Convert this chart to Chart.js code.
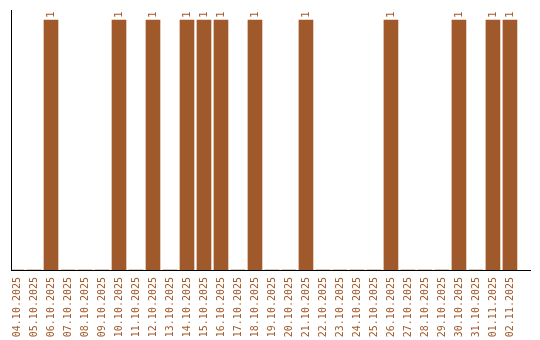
<!DOCTYPE html>
<html>
<head>
<meta charset="utf-8">
<script src="https://cdn.jsdelivr.net/npm/chart.js@4/dist/chart.umd.min.js"></script>
<style>
  html, body { margin: 0; padding: 0; background: #fff; }
  #wrap { width: 540px; height: 340px; }
</style>
</head>
<body>
<div id="wrap"><canvas id="c"></canvas></div>
<script>
const DATES = [
  "04.10.2025", "05.10.2025", "06.10.2025", "07.10.2025", "08.10.2025", "09.10.2025",
  "10.10.2025", "11.10.2025", "12.10.2025", "13.10.2025", "14.10.2025", "15.10.2025",
  "16.10.2025", "17.10.2025", "18.10.2025", "19.10.2025", "20.10.2025", "21.10.2025",
  "22.10.2025", "23.10.2025", "24.10.2025", "25.10.2025", "26.10.2025", "27.10.2025",
  "28.10.2025", "29.10.2025", "30.10.2025", "31.10.2025", "01.11.2025", "02.11.2025"
];
const COUNTS = [0, 0, 1, 0, 0, 0, 1, 0, 1, 0, 1, 1, 1, 0, 1, 0, 0, 1, 0, 0, 0, 0, 1, 0, 0, 0, 1, 0, 1, 1];

const BROWN = "#a0592a";
const MONO = "'DejaVu Sans Mono', 'Liberation Mono', monospace";

// "1" arriba de cada barra, girado como las fechas
const topLabels = {
  id: "topLabels",
  afterDatasetsDraw(chart) {
    const ctx = chart.ctx;
    const meta = chart.getDatasetMeta(0);
    ctx.save();
    ctx.fillStyle = BROWN;
    ctx.font = "11px " + MONO;
    ctx.textAlign = "left";
    ctx.textBaseline = "middle";
    meta.data.forEach((bar, i) => {
      if (!COUNTS[i]) return;
      ctx.save();
      ctx.translate(bar.x, bar.y - 2);
      ctx.rotate(-Math.PI / 2);
      ctx.fillText(String(COUNTS[i]), 0, 0);
      ctx.restore();
    });
    ctx.restore();
  },
};

new Chart(document.getElementById("c"), {
  type: "bar",
  data: {
    datasets: [{
      data: COUNTS.map((v, i) => ({ x: i, y: v })),
      backgroundColor: BROWN,
      borderWidth: 0,
      barThickness: 14,
    }],
  },
  options: {
    responsive: true,
    maintainAspectRatio: false,
    animation: false,
    layout: { padding: { left: 11, right: 10, top: 10, bottom: 0 } },
    plugins: { legend: { display: false }, tooltip: { enabled: false } },
    scales: {
      x: {
        type: "linear",
        offset: false,
        min: -6 / 17,
        max: 30.18,
        grid: { display: false, drawTicks: false, offset: false },
        border: { display: true, color: "#000", width: 1 },
        afterFit: (s) => { s.height = 70; s.paddingLeft = 0; s.paddingRight = 0; },
        ticks: {
          stepSize: 1,
          maxTicksLimit: 100,
          includeBounds: false,
          autoSkip: false,
          minRotation: 90,
          maxRotation: 90,
          padding: 7,
          color: BROWN,
          font: { family: MONO, size: 10 },
          callback: (v) => DATES[v] ?? "",
        },
      },
      y: {
        min: 0,
        max: 1.04,
        grid: { display: false, drawTicks: false },
        border: { display: true, color: "#000", width: 1 },
        ticks: { display: false },
        afterFit: (s) => { s.width = 0; },
      },
    },
  },
  plugins: [topLabels],
});
</script>
</body>
</html>
